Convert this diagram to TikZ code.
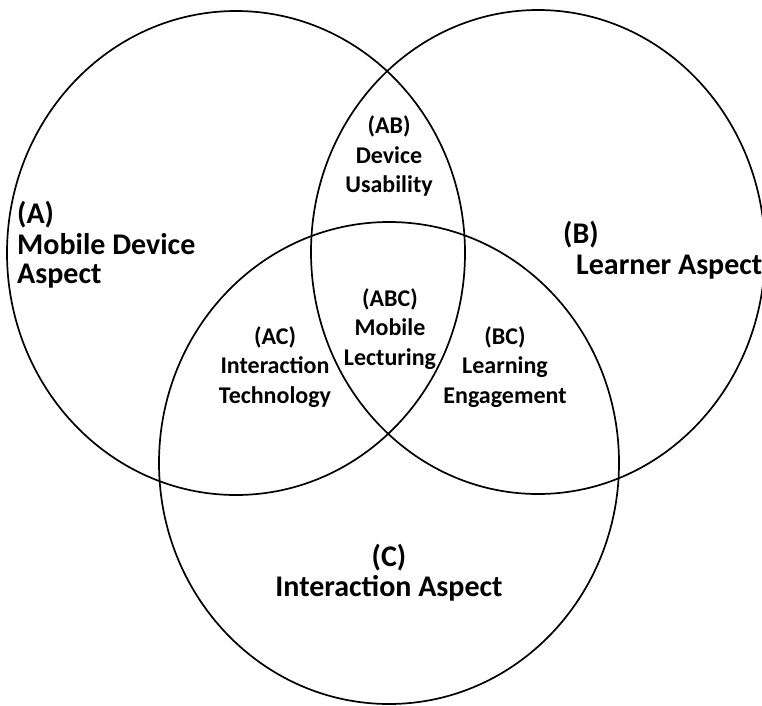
\documentclass[tikz,border=0pt]{standalone}
\usepackage{fontspec}
\setmainfont{Carlito}
\begin{document}
\begin{tikzpicture}[x=1pt,y=-1pt,
  ring/.style={draw=black,line width=1.7pt},
  big/.style={font=\bfseries\fontsize{30}{32}\selectfont,inner sep=0pt},
  small/.style={font=\bfseries\fontsize{24}{29.5}\selectfont,inner sep=0pt,align=center}]
\useasboundingbox (0,0) rectangle (762,705);
\clip (0,0) rectangle (762,705);
\fill[white] (0,0) rectangle (762,705);
\draw[ring] (236,253) ellipse [x radius=229pt, y radius=242pt];
\draw[ring] (538,252) ellipse [x radius=227pt, y radius=242pt];
\draw[ring] (389,463) ellipse [x radius=230pt, y radius=241pt];
% A
\node[big,anchor=base west] (a1) at (17,223) {(A)};
\node[big,anchor=base west] (a2) at (17,254) {Mobile Device};
\node[big,anchor=base west] (a3) at (17,283) {Aspect};
% B
\node[big,anchor=base west] (b1) at (563,243) {(B)};
\node[big,anchor=base west] (b2) at (576,274) {Learner Aspect};
% C
\node[big,anchor=base] (c1) at (389,566) {(C)};
\node[big,anchor=base] (c2) at (389,596) {Interaction Aspect};
% intersections
\node[small] (ab) at (389,156) {(AB)\\Device\\Usability};
\node[small] (abc) at (390,329) {(ABC)\\Mobile\\Lecturing};
\node[small] (ac) at (275,367) {(AC)\\Interaction\\Technology};
\node[small] (bc) at (505,367) {(BC)\\Learning\\Engagement};
\end{tikzpicture}
\end{document}
